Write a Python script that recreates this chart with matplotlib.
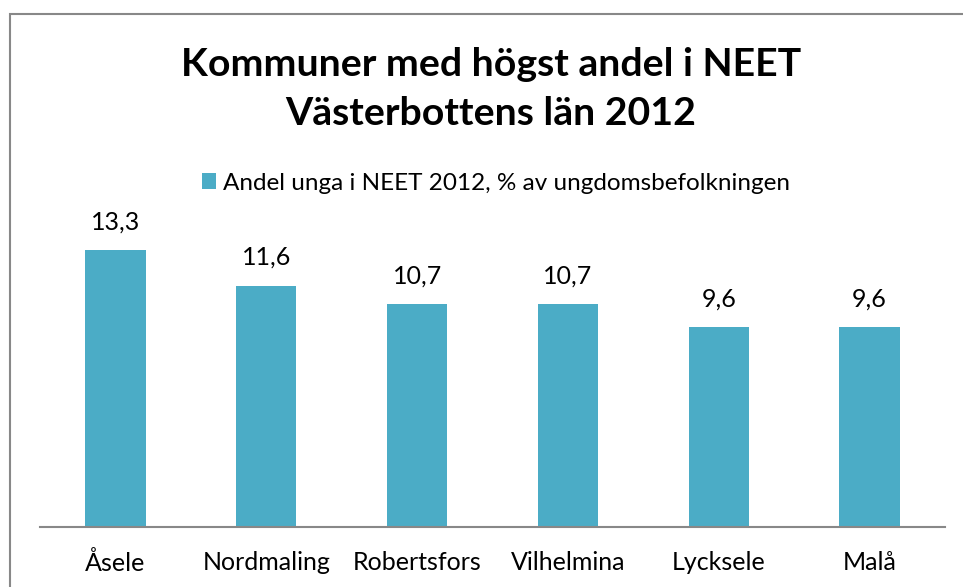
import matplotlib.pyplot as plt
from matplotlib.patches import Rectangle

# data
kommuner = ["Åsele", "Nordmaling", "Robertsfors", "Vilhelmina", "Lycksele", "Malå"]
andel = [13.3, 11.6, 10.7, 10.7, 9.6, 9.6]
etiketter = ["13,3", "11,6", "10,7", "10,7", "9,6", "9,6"]
serie_namn = "Andel unga i NEET 2012, % av ungdomsbefolkningen"
titel = "Kommuner med högst andel i NEET\nVästerbottens län 2012"

BAR_COLOR = "#4BACC6"
plt.rcParams['font.family'] = ['Lato', 'DejaVu Sans']

fig = plt.figure(figsize=(9.63, 5.87), dpi=100)

# outer chart border
fig.patches.append(Rectangle((10 / 963, -0.05), 1.2, 1 - 14 / 587 + 0.05,
                             transform=fig.transFigure, fill=False,
                             edgecolor="#888888", linewidth=1.5))

ax = fig.add_axes([40 / 963, 60 / 587, 905 / 963, 320 / 587])
x = range(len(kommuner))
bars = ax.bar(x, andel, width=0.4, color=BAR_COLOR, label=serie_namn)
ax.set_xlim(-0.5, len(kommuner) - 0.5)
ax.set_ylim(0, 320 / 20.8)

for rect, txt in zip(bars, etiketter):
    ax.annotate(txt, (rect.get_x() + rect.get_width() / 2, rect.get_height()),
                xytext=(0, 12), textcoords="offset points",
                ha="center", va="bottom", fontsize=18)

ax.set_xticks(list(x))
ax.set_xticklabels(kommuner, fontsize=18)
ax.tick_params(axis="x", length=0, pad=17)
ax.set_yticks([])
for s in ["top", "right", "left"]:
    ax.spines[s].set_visible(False)
ax.spines["bottom"].set_color("#888888")
ax.spines["bottom"].set_linewidth(1.5)

fig.text(491 / 963, 1 - 89 / 587, titel, ha="center", va="center",
         fontsize=28.3, fontweight="bold", linespacing=1.45)

fig.legend(loc="center", bbox_to_anchor=(496 / 963, 1 - 183 / 587), frameon=False,
           fontsize=17.5, handlelength=0.6, handleheight=0.6, handletextpad=0.3)

fig.savefig("out.png", dpi=100)
